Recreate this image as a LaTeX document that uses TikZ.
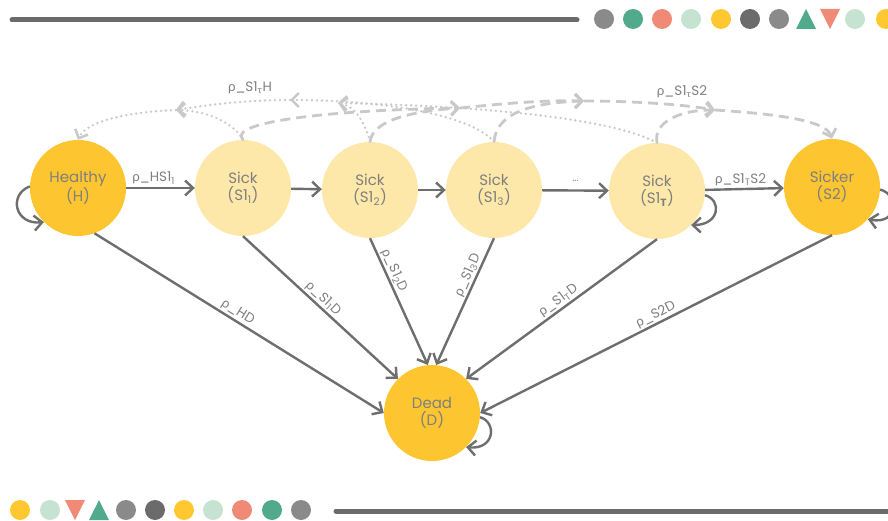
\documentclass[tikz,border=0pt]{standalone}
\usepackage{fontspec}
\setmainfont{Poppins}
\newfontfamily\grk{Lato}
\usetikzlibrary{arrows.meta}
\definecolor{nodeY}{HTML}{FDC530}
\definecolor{sickY}{HTML}{FEE8A9}
\definecolor{edgeG}{HTML}{6E6E6E}
\definecolor{txtG}{HTML}{7F7F7F}
\definecolor{lightG}{HTML}{C9C9C9}
\definecolor{grayA}{HTML}{8A8A8A}
\definecolor{darkA}{HTML}{6B6B6B}
\definecolor{greenA}{HTML}{52AA8C}
\definecolor{salmonA}{HTML}{F08A76}
\definecolor{lgreenA}{HTML}{C5E3D0}
\definecolor{yellowA}{HTML}{FFC831}
\newcommand{\rh}{{\grk ρ}}
\newcommand{\tu}{\textsubscript{\grk τ}}
\tikzset{
  state/.style={circle, minimum size=96pt, inner sep=0pt, align=center,
    font=\fontsize{15}{17}\selectfont, text=txtG},
  strong/.style={state, fill=nodeY},
  sick/.style={state, fill=sickY},
  trans/.style={draw=edgeG, line width=2.4pt, -{Straight Barb[length=8pt,width=15pt]}},
  lbl/.style={font=\fontsize{13.5}{15}\selectfont, text=txtG, inner sep=1.5pt},
  back/.style={draw=lightG, line width=2.6pt, dash pattern=on 0pt off 5pt, line cap=round,
    -{Straight Barb[length=7pt,width=14pt]}},
  fwd/.style={draw=lightG, line width=2.8pt, dash pattern=on 10pt off 6pt,
    -{Straight Barb[length=7pt,width=14pt]}},
}
\begin{document}
\begin{tikzpicture}[x=1pt,y=-1pt]
\useasboundingbox (0,0) rectangle (888,521);
% decorations
\draw[line width=5pt, darkA, line cap=round] (12,20) -- (577,20);
\foreach \x/\c in {604/grayA,633/greenA,662/salmonA,691/lgreenA,721/yellowA,750/darkA,779/grayA,855/lgreenA,886/yellowA}
  \fill[\c] (\x,19) circle (10);
\fill[greenA] (796,29) -- (816,29) -- (806,9) -- cycle;
\fill[salmonA] (820,9) -- (840,9) -- (830,29) -- cycle;
\draw[line width=5pt, darkA, line cap=round] (336,511) -- (900,511);
\foreach \x/\c in {20/yellowA,50/lgreenA,126/grayA,155/darkA,184/yellowA,213/lgreenA,242/salmonA,272/greenA,301/grayA}
  \fill[\c] (\x,510) circle (10);
\fill[salmonA] (65,500) -- (85,500) -- (75,520) -- cycle;
\fill[greenA] (89,520) -- (109,520) -- (99,500) -- cycle;

% nodes
\node[strong] (H) at (78,188) {Healthy\\(H)};
\node[sick] (S1a) at (243,188) {Sick\\(S1\textsubscript{1})};
\node[sick] (S1b) at (370,190) {Sick\\(S1\textsubscript{2})};
\node[sick] (S1c) at (494,190) {Sick\\(S1\textsubscript{3})};
\node[sick] (S1T) at (657,191) {Sick\\(S1\textsubscript{\textbf{T}})};
\node[strong] (S2) at (832,187) {Sicker\\(S2)};
\node[strong] (D) at (432,413) {Dead\\(D)};

% junction points of the upper curves
\coordinate (P) at (176,110);
\coordinate (Q) at (290,100);
\coordinate (R) at (338,103);
\coordinate (A) at (460,108);
\coordinate (B) at (584,101);
\coordinate (C) at (715,110);

% backward dotted curves to H
\draw[back] (P) .. controls (125,112) and (86,122) .. (H.north);
\draw[back] (S1a.north) .. controls (236,126) and (212,111) .. (P);
\draw[back] (Q) .. controls (250,100) and (212,104) .. (P);
\draw[back] (S1c.north) .. controls (470,114) and (380,100) .. (Q);
\draw[back] (S1T.north) .. controls (612,118) and (480,106) .. (R);
\draw[back] (S1b.north) .. controls (364,120) and (354,106) .. (R);
% forward dashed curves to S2
\draw[fwd] (S1a.north) .. controls (226,122) and (330,110) .. (A);
\draw[fwd] (S1b.north) .. controls (372,124) and (400,112) .. (A);
\draw[fwd] (A) .. controls (500,104) and (540,100) .. (B);
\draw[fwd] (S1c.north) .. controls (496,118) and (520,103) .. (B);
\draw[fwd] (B) .. controls (630,101) and (680,104) .. (C);
\draw[fwd] (S1T.north) .. controls (653,122) and (680,110) .. (C);
\draw[fwd] (C) .. controls (775,114) and (826,120) .. (S2.north);
\node[lbl] (l1) at (250,88) {\rh\_S1\tu H};
\node[lbl] (l2) at (682,92) {\rh\_S1\tu S2};

% horizontal transitions
\draw[trans] (H) -- node[lbl, above=1pt, pos=0.4]{\rh\_HS1\textsubscript{1}} (S1a);
\draw[trans] (S1a) -- (S1b);
\draw[trans] (S1b) -- (S1c);
\draw[trans] (S1c) -- node[lbl, above=6pt, font=\fontsize{10}{11}\selectfont]{...} (S1T);
\draw[trans] (S1T) -- node[lbl, above=1pt, pos=0.45]{\rh\_S1\textsubscript{T}S2} (S2);

% transitions to D
\draw[trans] (H.-70) -- node[lbl, sloped, above, pos=0.48]{\rh\_HD} (D.180);
\draw[trans] (S1a.-90) -- node[lbl, sloped, above, pos=0.48]{\rh\_S1\textsubscript{1}D} (D.135);
\draw[trans] (S1b.-90) -- node[lbl, sloped, above, pos=0.28]{\rh\_S1\textsubscript{2}D} (D.95);
\draw[trans] (S1c.-90) -- node[lbl, sloped, above, pos=0.32]{\rh\_S1\textsubscript{3}D} (D.85);
\draw[trans] (S1T.-90) -- node[lbl, sloped, above, pos=0.49]{\rh\_S1\textsubscript{T}D} (D.45);
\draw[trans] (S2.-90) -- node[lbl, sloped, above, pos=0.49]{\rh\_S2D} (D.0);

% self loops
\draw[trans] (H.178) .. controls (8,195) and (15,225) .. (H.225);
\draw[trans] (S1T.-5) .. controls (722,200) and (720,225) .. (S1T.-45);
\draw[trans] (S2.-3) .. controls (900,195) and (898,225) .. (S2.-42);
\draw[trans] (D.-5) .. controls (497,422) and (495,450) .. (D.-45);
\end{tikzpicture}
\end{document}
